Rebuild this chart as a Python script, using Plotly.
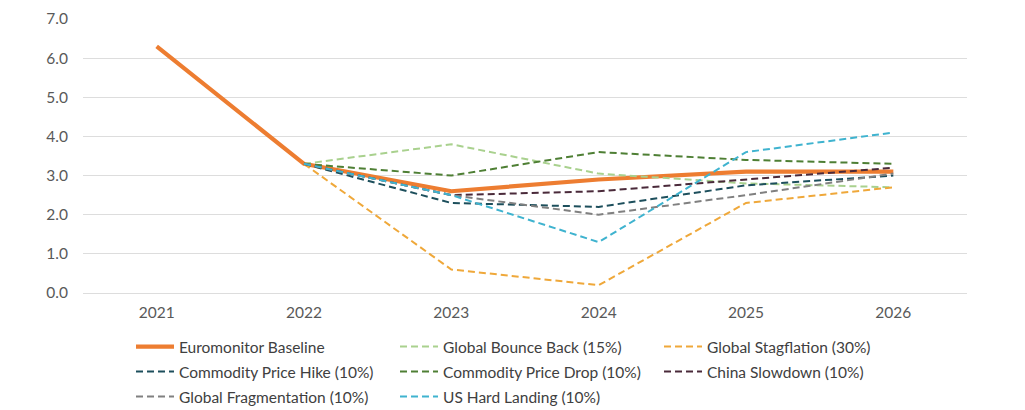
import plotly.graph_objects as go

years = ["2021", "2022", "2023", "2024", "2025", "2026"]

baseline = [6.3, 3.3, 2.6, 2.9, 3.1, 3.1]
bounce_back = [None, 3.3, 3.8, 3.05, 2.8, 2.7]
stagflation = [None, 3.3, 0.6, 0.2, 2.3, 2.7]
price_hike = [None, 3.3, 2.3, 2.2, 2.75, 3.0]
price_drop = [None, 3.3, 3.0, 3.6, 3.4, 3.3]
china_slowdown = [None, 3.3, 2.5, 2.6, 2.9, 3.2]
fragmentation = [None, 3.3, 2.5, 2.0, 2.5, 3.05]
us_hard_landing = [None, 3.3, 2.5, 1.3, 3.6, 4.1]

y_ticks = [0, 1, 2, 3, 4, 5, 6, 7]

series = [
    ("Euromonitor Baseline", baseline, "#ED7D31", 4.2, "solid", "legend"),
    ("Global Bounce Back (15%)", bounce_back, "#A9D18E", 2, "7px,4px", "legend"),
    ("Global Stagflation (30%)", stagflation, "#EFA83A", 2, "7px,4px", "legend"),
    ("Commodity Price Hike (10%)", price_hike, "#1D4F5C", 2, "7px,4px", "legend2"),
    ("Commodity Price Drop (10%)", price_drop, "#4E7F34", 2, "7px,4px", "legend2"),
    ("China Slowdown (10%)", china_slowdown, "#4A2A3A", 2, "7px,4px", "legend2"),
    ("Global Fragmentation (10%)", fragmentation, "#808080", 2, "7px,4px", "legend3"),
    ("US Hard Landing (10%)", us_hard_landing, "#3FB3CF", 2, "7px,4px", "legend3"),
]

fig = go.Figure()
for name, vals, color, width, dash, leg in series:
    fig.add_trace(go.Scatter(
        x=years, y=vals, name=name, mode="lines",
        line=dict(color=color, width=width, dash=dash),
        connectgaps=False, legend=leg,
    ))

font_family = "Lato, 'Open Sans', sans-serif"
W, H = 1017, 402  # page body adds an 8px offset


def row_legend(center_y_page):
    return dict(
        orientation="h",
        xref="container", yref="container",
        x=(116 + 7) / W, y=1 - (center_y_page - 8) / H,
        xanchor="left", yanchor="middle",
        entrywidth=211, entrywidthmode="pixels",
        font=dict(family=font_family, size=15.5, color="#404040"),
        itemwidth=38,
        traceorder="normal",
        bgcolor="rgba(0,0,0,0)",
    )


fig.update_layout(
    width=W, height=H,
    margin=dict(l=75, r=58, t=11, b=117, autoexpand=False),
    plot_bgcolor="white", paper_bgcolor="white",
    font=dict(family=font_family, size=15, color="#595959"),
    showlegend=True,
    legend=row_legend(347),
    legend2=row_legend(372),
    legend3=row_legend(397),
    xaxis=dict(
        type="category", range=[-0.5, 5.5],
        showgrid=False, showline=False, zeroline=False,
        ticks="", ticklabelstandoff=8,
        tickfont=dict(size=15.5, color="#595959"),
    ),
    yaxis=dict(
        range=[0, 7], tickvals=y_ticks, tickformat=".1f",
        showgrid=True, gridcolor="#DDDDDD", gridwidth=1,
        zeroline=True, zerolinecolor="#DDDDDD", zerolinewidth=1,
        showline=False, ticks="", ticklabelstandoff=14,
        tickfont=dict(size=15.5, color="#595959"),
    ),
)

fig.write_html("out.html")
